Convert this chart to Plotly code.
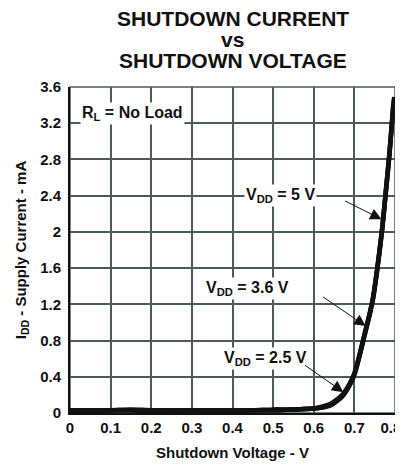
import plotly.graph_objects as go

# Shutdown voltage (V) and supply current (mA)
v_5 = [0, 0.05, 0.1, 0.15, 0.2, 0.25, 0.3, 0.35, 0.4, 0.45, 0.5, 0.55, 0.6, 0.62, 0.64,
       0.66, 0.672, 0.689, 0.70, 0.714, 0.726, 0.738, 0.746, 0.756, 0.768, 0.776, 0.787, 0.798]
i_5 = [0.03, 0.03, 0.03, 0.04, 0.03, 0.03, 0.03, 0.03, 0.03, 0.03, 0.04, 0.04, 0.05, 0.06, 0.09,
       0.15, 0.2, 0.32, 0.43, 0.66, 0.88, 1.1, 1.27, 1.58, 2.02, 2.38, 2.9, 3.49]
v_36 = [0, 0.05, 0.1, 0.15, 0.2, 0.25, 0.3, 0.35, 0.4, 0.45, 0.5, 0.55, 0.6, 0.62, 0.64,
        0.66, 0.672, 0.689, 0.70, 0.714, 0.726, 0.738, 0.746, 0.756, 0.768, 0.776, 0.787, 0.797]
i_36 = [0.02, 0.03, 0.03, 0.03, 0.03, 0.02, 0.03, 0.03, 0.02, 0.03, 0.03, 0.04, 0.05, 0.06, 0.08,
        0.14, 0.19, 0.31, 0.42, 0.65, 0.87, 1.09, 1.26, 1.57, 2.0, 2.36, 2.88, 3.46]
v_25 = [0, 0.05, 0.1, 0.15, 0.2, 0.25, 0.3, 0.35, 0.4, 0.45, 0.5, 0.55, 0.6, 0.62, 0.64,
        0.66, 0.672, 0.689, 0.70, 0.714, 0.726, 0.738, 0.746, 0.756, 0.768, 0.776, 0.787, 0.796]
i_25 = [0.03, 0.02, 0.03, 0.03, 0.02, 0.03, 0.03, 0.02, 0.03, 0.03, 0.03, 0.04, 0.05, 0.07, 0.1,
        0.16, 0.21, 0.33, 0.44, 0.67, 0.89, 1.11, 1.28, 1.59, 2.03, 2.39, 2.91, 3.42]

x_ticks = [0, 0.1, 0.2, 0.3, 0.4, 0.5, 0.6, 0.7, 0.8]
x_tick_text = ["0", "0.1", "0.2", "0.3", "0.4", "0.5", "0.6", "0.7", "0.8\u00a0\u00a0"]
y_ticks = [0, 0.4, 0.8, 1.2, 1.6, 2.0, 2.4, 2.8, 3.2, 3.6]
y_tick_text = ["0", "0.4", "0.8", "1.2", "1.6", "2", "2.4", "2.8", "3.2", "3.6"]
title_lines = ["SHUTDOWN CURRENT", "vs", "SHUTDOWN VOLTAGE"]

FONT = "Liberation Sans, Arial, sans-serif"
GRID = "#4d5a5a"
INK = "#111111"

fig = go.Figure()
for vx, iy, name in [(v_5, i_5, "5 V"), (v_36, i_36, "3.6 V"), (v_25, i_25, "2.5 V")]:
    fig.add_trace(go.Scatter(x=vx, y=iy, mode="lines", name=name,
                             line=dict(color=INK, width=4.5, shape="spline", smoothing=0.8),
                             showlegend=False))

labels = [
    ("V<sub>DD</sub> = 5 V", 0.519, 2.4),
    ("V<sub>DD</sub> = 3.6 V", 0.436, 1.37),
    ("V<sub>DD</sub> = 2.5 V", 0.482, 0.6),
    ("R<sub>L</sub> = No Load", 0.153, 3.31),
]
annotations = []
for text, x, y in labels:
    annotations.append(dict(x=x, y=y, xref="x", yref="y", text="<b>" + text + "</b>",
                            showarrow=False, bgcolor="white", borderpad=1,
                            font=dict(family=FONT, size=16, color=INK)))

arrows = [
    (0.767, 2.14, -38, -19),
    (0.728, 0.96, -44, -30),
    (0.673, 0.23, -40, -28),
]
for x, y, ax, ay in arrows:
    annotations.append(dict(x=x, y=y, xref="x", yref="y", ax=ax, ay=ay, text="",
                            showarrow=True, arrowhead=2, arrowsize=2.3, arrowwidth=1,
                            arrowcolor=INK, standoff=0))

for line, shift in zip(title_lines, [69, 48, 27]):
    annotations.append(dict(x=0.5, y=1, xref="paper", yref="paper", yanchor="middle",
                            yshift=shift, xanchor="center", showarrow=False,
                            text="<b>" + line + "</b>",
                            font=dict(family=FONT, size=21, color=INK)))

fig.update_layout(
    width=403, height=458,
    margin=dict(l=62, r=16, t=79, b=53),
    paper_bgcolor="white", plot_bgcolor="white",
    font=dict(family=FONT, size=15, color=INK),
    annotations=annotations,
    xaxis=dict(range=[0, 0.8], tickvals=x_ticks, ticktext=["<b>%s</b>" % t for t in x_tick_text],
               showgrid=True, gridcolor=GRID, gridwidth=1.5, zeroline=False,
               showline=True, linecolor=INK, linewidth=2, mirror=False,
               ticks="", ticklen=0, automargin=False,
               title=dict(text="<b>Shutdown Voltage - V</b>", font=dict(size=15), standoff=12)),
    yaxis=dict(range=[0, 3.6], tickvals=y_ticks, ticktext=["<b>%s</b>" % t for t in y_tick_text],
               showgrid=True, gridcolor=GRID, gridwidth=1.5, zeroline=False,
               showline=True, linecolor=INK, linewidth=2, mirror=False,
               ticks="", ticklen=0, automargin=False, ticklabelstandoff=4,
               title=dict(text="<b>I<sub>DD</sub> - Supply Current - mA</b>", font=dict(size=15), standoff=10)),
    shapes=[dict(type="rect", xref="paper", yref="paper", x0=0, y0=0, x1=1, y1=1,
                 line=dict(color=GRID, width=1.5), layer="below")],
)

fig.write_html("out.html")
